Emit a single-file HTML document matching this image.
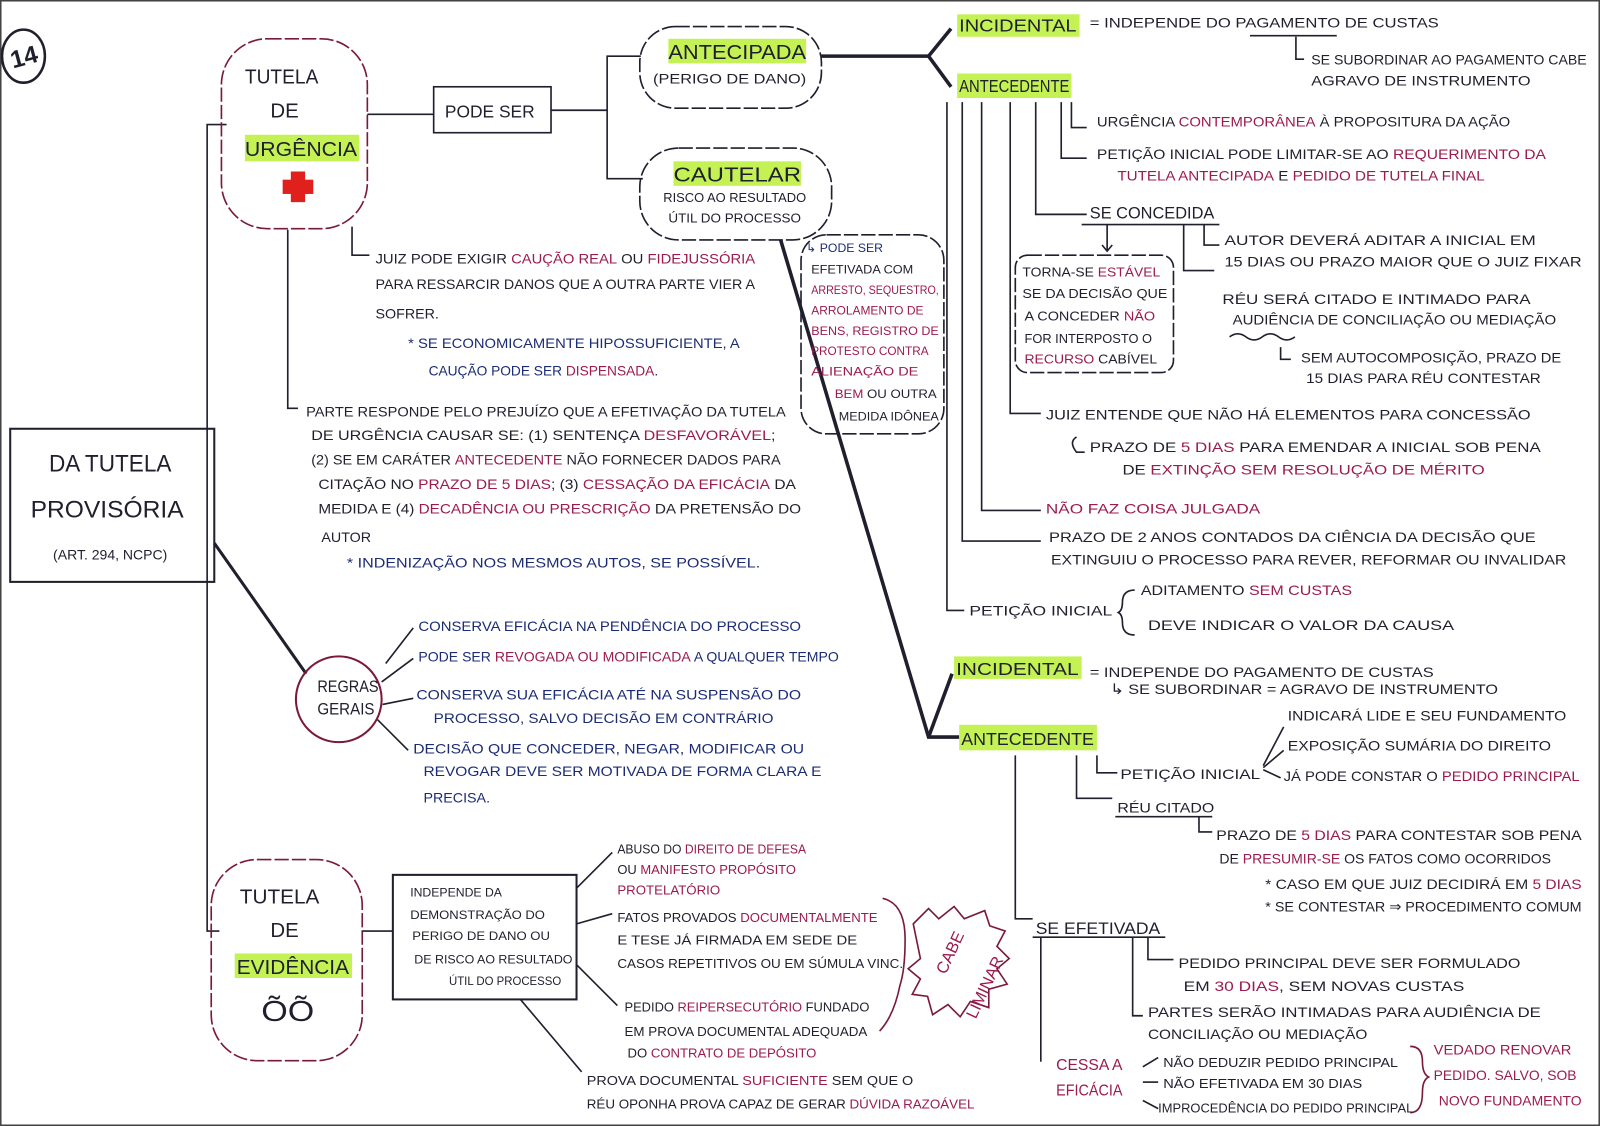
<!DOCTYPE html>
<html><head><meta charset="utf-8"><style>
html,body{margin:0;padding:0;background:#fff;}
svg{display:block;font-size:14px;font-family:"Liberation Sans",sans-serif;}
text{fill:#1f1f2e;}
.m{fill:#9b1b4f}.b{fill:#1c2c74}
.big{font-size:24px}
.hl{fill:#c4f255}
</style></head><body>
<svg width="1600" height="1126" viewBox="0 0 1568 1103" preserveAspectRatio="none" xmlns="http://www.w3.org/2000/svg">
<rect x="0.5" y="0.5" width="1567" height="1102" fill="#fff" stroke="#444" stroke-width="2"/>
<g fill="none" stroke="#1f1f2e" stroke-width="1.6">
<ellipse cx="23" cy="55" rx="21" ry="26" stroke-width="2.5"/>
<rect x="10" y="420" width="200" height="150" stroke-width="2"/>
<polyline points="222,122 203,122 203,912 215,912"/>
<line x1="210" y1="532" x2="300" y2="660" stroke-width="3"/>
<circle cx="332" cy="685" r="42" stroke="#7a1a3a" stroke-width="2"/>
<rect x="217" y="38" width="143" height="186" rx="45" stroke="#7a1a3a" stroke-dasharray="14 3"/>
<line x1="360" y1="112" x2="425" y2="112"/>
<rect x="425" y="85" width="115" height="45"/>
<polyline points="540,108 595,108"/>
<polyline points="628,55 595,55 595,175 630,175"/>
<rect x="627" y="26" width="178" height="80" rx="35" stroke-dasharray="14 3"/>
<rect x="627" y="145" width="188" height="90" rx="38" stroke-dasharray="14 3"/>
<polyline points="805,55 910,55" stroke-width="3.5"/>
<polyline points="932,28 910,55 932,85" stroke-width="3.5"/>
<polyline points="765,235 910,722 940,722" stroke-width="3.5"/>
<line x1="910" y1="722" x2="933" y2="660" stroke-width="3.5"/>
<rect x="785" y="230" width="140" height="195" rx="25" stroke-dasharray="14 3"/>
<polyline points="282,225 282,400 292,400"/>
<polyline points="345,222 345,250 362,250"/>
<polyline points="928,100 928,598 945,598"/>
<polyline points="943,100 943,530 1020,530"/>
<polyline points="962,100 962,500 1020,500"/>
<polyline points="990,100 990,405 1020,405"/>
<polyline points="1015,100 1015,210 1065,210"/>
<polyline points="1040,100 1040,155 1065,155"/>
<polyline points="1050,100 1050,125 1065,125"/>
<line x1="1060" y1="220" x2="1195" y2="220"/>
<line x1="1085" y1="220" x2="1085" y2="245"/><polyline points="1080,240 1085,246 1090,240"/>
<polyline points="1160,220 1160,265 1190,265"/>
<polyline points="1180,220 1180,240 1195,240"/>
<rect x="995" y="250" width="155" height="115" rx="12" stroke-dasharray="14 3"/>
<path d="M1205,330 q8,-6 16,0 t16,0 t16,0 t16,0"/>
<path d="M1255,340 v12 h10"/>
<path d="M1055,428 q-8,5 0,15 h8"/>
<path d="M1112,578 q-12,0 -12,12 q0,8 -4,10 q4,2 4,10 q0,12 12,12"/>
<line x1="1225" y1="35" x2="1310" y2="35"/>
<path d="M1270,36 v22 h8"/>
<polyline points="995,740 995,900 1012,900"/>
<polyline points="1055,740 1055,782 1090,782"/>
<polyline points="1075,740 1075,757 1095,757"/>
<line x1="1238" y1="750" x2="1258" y2="712"/><line x1="1238" y1="752" x2="1258" y2="735"/><line x1="1238" y1="754" x2="1255" y2="762"/>
<line x1="1093" y1="800" x2="1188" y2="800"/>
<polyline points="1175,800 1175,815 1188,815"/>
<line x1="1012" y1="918" x2="1142" y2="918"/>
<polyline points="1020,918 1020,1040"/>
<polyline points="1110,918 1110,995 1120,995"/>
<polyline points="1125,918 1125,940 1150,940"/>
<line x1="1120" y1="1045" x2="1135" y2="1036"/><line x1="1120" y1="1060" x2="1135" y2="1060"/><line x1="1120" y1="1078" x2="1135" y2="1086"/>
<path d="M1382,1025 q12,0 12,15 q0,12 6,15 q-6,3 -6,15 q0,20 -12,20" stroke="#7a1a3a"/>
<line x1="378" y1="650" x2="405" y2="615"/>
<line x1="374" y1="668" x2="405" y2="645"/>
<line x1="375" y1="690" x2="405" y2="684"/>
<line x1="370" y1="705" x2="400" y2="735"/>
<rect x="207" y="842" width="148" height="197" rx="45" stroke="#7a1a3a" stroke-dasharray="14 3"/>
<line x1="355" y1="912" x2="385" y2="912"/>
<rect x="385" y="857" width="180" height="122" stroke-width="2"/>
<line x1="565" y1="870" x2="600" y2="835"/>
<line x1="565" y1="905" x2="600" y2="895"/>
<line x1="565" y1="945" x2="605" y2="985"/>
<line x1="510" y1="979" x2="570" y2="1050"/>
<path d="M865,880 q22,5 22,40 q0,30 -5,45 q-6,30 -20,45" stroke="#7a1a3a"/>
<path d="M895,905 l15,-15 l10,10 l15,-12 l10,12 l20,-8 l5,15 l15,5 l-8,15 l12,12 l-12,10 l10,15 l-18,5 l0,18 l-18,-6 l-10,15 l-12,-12 l-15,10 l-5,-18 l-15,-2 l8,-15 l-12,-10 l12,-10 z" stroke="#7a1a3a"/>
</g>
<g fill="#e0201c"><rect x="285" y="168" width="14" height="30"/><rect x="277" y="176" width="30" height="14"/></g>
<rect class="hl" x="240" y="132" width="112" height="26"/>
<rect class="hl" x="655" y="38" width="135" height="24"/>
<rect class="hl" x="660" y="158" width="125" height="24"/>
<rect class="hl" x="938" y="14" width="120" height="22"/>
<rect class="hl" x="938" y="72" width="112" height="24"/>
<rect class="hl" x="935" y="643" width="125" height="22"/>
<rect class="hl" x="940" y="710" width="135" height="25"/>
<rect class="hl" x="230" y="934" width="115" height="24"/>

<text x="10" y="64" font-size="24" font-weight="bold" transform="rotate(-15 23 55)">14</text>
<text class="big" x="48" y="462" textLength="120" lengthAdjust="spacingAndGlyphs">DA TUTELA</text>
<text class="big" x="30" y="507" textLength="150" lengthAdjust="spacingAndGlyphs">PROVISÓRIA</text>
<text x="52" y="548" textLength="112" lengthAdjust="spacingAndGlyphs">(ART. 294, NCPC)</text>
<text x="240" y="82" font-size="20" textLength="72" lengthAdjust="spacingAndGlyphs">TUTELA</text>
<text x="265" y="115" font-size="20">DE</text>
<text x="240" y="153" font-size="20" textLength="110" lengthAdjust="spacingAndGlyphs">URGÊNCIA</text>
<text x="436" y="115" font-size="17" textLength="88" lengthAdjust="spacingAndGlyphs">PODE SER</text>
<text x="655" y="58" font-size="20" textLength="135" lengthAdjust="spacingAndGlyphs">ANTECIPADA</text>
<text x="640" y="82" textLength="150" lengthAdjust="spacingAndGlyphs">(PERIGO DE DANO)</text>
<text x="660" y="178" font-size="20" textLength="125" lengthAdjust="spacingAndGlyphs">CAUTELAR</text>
<text x="650" y="198" font-size="13" textLength="140" lengthAdjust="spacingAndGlyphs">RISCO AO RESULTADO</text>
<text x="655" y="218" font-size="13" textLength="130" lengthAdjust="spacingAndGlyphs">ÚTIL DO PROCESSO</text>
<text x="790" y="247" class="b" font-size="12">↳ PODE SER</text>
<text x="795" y="268" font-size="12" textLength="100" lengthAdjust="spacingAndGlyphs">EFETIVADA COM</text>
<text x="795" y="288" class="m" font-size="12" textLength="125" lengthAdjust="spacingAndGlyphs">ARRESTO, SEQUESTRO,</text>
<text x="795" y="308" class="m" font-size="12" textLength="110" lengthAdjust="spacingAndGlyphs">ARROLAMENTO DE</text>
<text x="795" y="328" class="m" font-size="12" textLength="125" lengthAdjust="spacingAndGlyphs">BENS, REGISTRO DE</text>
<text x="795" y="348" class="m" font-size="12" textLength="115" lengthAdjust="spacingAndGlyphs">PROTESTO CONTRA</text>
<text x="795" y="368" class="m" font-size="12" textLength="105" lengthAdjust="spacingAndGlyphs">ALIENAÇÃO DE</text>
<text x="818" y="390" font-size="12" textLength="100" lengthAdjust="spacingAndGlyphs"><tspan class="m">BEM</tspan> OU OUTRA</text>
<text x="822" y="412" font-size="12" textLength="98" lengthAdjust="spacingAndGlyphs">MEDIDA IDÔNEA</text>
<text x="940" y="31" font-size="17" textLength="115" lengthAdjust="spacingAndGlyphs">INCIDENTAL</text>
<text x="1068" y="27" textLength="342" lengthAdjust="spacingAndGlyphs">=  INDEPENDE DO PAGAMENTO DE CUSTAS</text>
<text x="1285" y="63" textLength="270" lengthAdjust="spacingAndGlyphs">SE SUBORDINAR AO PAGAMENTO CABE</text>
<text x="1285" y="84" textLength="215" lengthAdjust="spacingAndGlyphs">AGRAVO DE INSTRUMENTO</text>
<text x="940" y="90" font-size="17" textLength="108" lengthAdjust="spacingAndGlyphs">ANTECEDENTE</text>
<text x="1075" y="124" textLength="405" lengthAdjust="spacingAndGlyphs">URGÊNCIA <tspan class="m">CONTEMPORÂNEA</tspan> À PROPOSITURA DA AÇÃO</text>
<text x="1075" y="156" textLength="440" lengthAdjust="spacingAndGlyphs">PETIÇÃO INICIAL PODE LIMITAR-SE AO <tspan class="m">REQUERIMENTO DA</tspan></text>
<text x="1095" y="177" textLength="360" lengthAdjust="spacingAndGlyphs"><tspan class="m">TUTELA ANTECIPADA</tspan> E <tspan class="m">PEDIDO DE TUTELA FINAL</tspan></text>
<text x="1068" y="214" font-size="16" textLength="122" lengthAdjust="spacingAndGlyphs">SE CONCEDIDA</text>
<text x="1200" y="240" textLength="305" lengthAdjust="spacingAndGlyphs">AUTOR DEVERÁ ADITAR A INICIAL EM</text>
<text x="1200" y="261" textLength="350" lengthAdjust="spacingAndGlyphs">15 DIAS OU PRAZO MAIOR QUE O JUIZ FIXAR</text>
<text x="1002" y="271" font-size="13" textLength="135" lengthAdjust="spacingAndGlyphs">TORNA-SE <tspan class="m">ESTÁVEL</tspan></text>
<text x="1002" y="292" font-size="13" textLength="142" lengthAdjust="spacingAndGlyphs">SE DA DECISÃO QUE</text>
<text x="1004" y="314" font-size="13" textLength="128" lengthAdjust="spacingAndGlyphs">A CONCEDER <tspan class="m">NÃO</tspan></text>
<text x="1004" y="336" font-size="13" textLength="125" lengthAdjust="spacingAndGlyphs">FOR INTERPOSTO O</text>
<text x="1004" y="356" font-size="13" textLength="130" lengthAdjust="spacingAndGlyphs"><tspan class="m">RECURSO</tspan> CABÍVEL</text>
<text x="1198" y="298" textLength="302" lengthAdjust="spacingAndGlyphs">RÉU SERÁ CITADO E INTIMADO PARA</text>
<text x="1208" y="318" textLength="317" lengthAdjust="spacingAndGlyphs">AUDIÊNCIA DE CONCILIAÇÃO OU MEDIAÇÃO</text>
<text x="1275" y="355" textLength="255" lengthAdjust="spacingAndGlyphs">SEM AUTOCOMPOSIÇÃO, PRAZO DE</text>
<text x="1280" y="375" textLength="230" lengthAdjust="spacingAndGlyphs">15 DIAS PARA RÉU CONTESTAR</text>
<text x="1025" y="411" textLength="475" lengthAdjust="spacingAndGlyphs">JUIZ ENTENDE QUE NÃO HÁ ELEMENTOS PARA CONCESSÃO</text>
<text x="1068" y="443" textLength="442" lengthAdjust="spacingAndGlyphs">PRAZO DE <tspan class="m">5 DIAS</tspan> PARA EMENDAR A INICIAL SOB PENA</text>
<text x="1100" y="465" textLength="355" lengthAdjust="spacingAndGlyphs">DE <tspan class="m">EXTINÇÃO SEM RESOLUÇÃO DE MÉRITO</tspan></text>
<text x="1025" y="503" class="m" textLength="210" lengthAdjust="spacingAndGlyphs">NÃO FAZ COISA JULGADA</text>
<text x="1028" y="531" textLength="477" lengthAdjust="spacingAndGlyphs">PRAZO DE 2 ANOS CONTADOS DA CIÊNCIA DA DECISÃO QUE</text>
<text x="1030" y="553" textLength="505" lengthAdjust="spacingAndGlyphs">EXTINGUIU O PROCESSO PARA REVER, REFORMAR OU INVALIDAR</text>
<text x="950" y="603" textLength="140" lengthAdjust="spacingAndGlyphs">PETIÇÃO INICIAL</text>
<text x="1118" y="583" textLength="207" lengthAdjust="spacingAndGlyphs">ADITAMENTO <tspan class="m">SEM CUSTAS</tspan></text>
<text x="1125" y="617" textLength="300" lengthAdjust="spacingAndGlyphs">DEVE INDICAR O VALOR DA CAUSA</text>
<text x="937" y="661" font-size="17" textLength="120" lengthAdjust="spacingAndGlyphs">INCIDENTAL</text>
<text x="1068" y="663" textLength="337" lengthAdjust="spacingAndGlyphs">= INDEPENDE DO PAGAMENTO DE CUSTAS</text>
<text x="1088" y="680" textLength="380" lengthAdjust="spacingAndGlyphs">↳ SE SUBORDINAR = AGRAVO DE INSTRUMENTO</text>
<text x="942" y="730" font-size="17" textLength="130" lengthAdjust="spacingAndGlyphs">ANTECEDENTE</text>
<text x="1098" y="763" textLength="137" lengthAdjust="spacingAndGlyphs">PETIÇÃO INICIAL</text>
<text x="1262" y="706" textLength="273" lengthAdjust="spacingAndGlyphs">INDICARÁ LIDE E SEU FUNDAMENTO</text>
<text x="1262" y="735" textLength="258" lengthAdjust="spacingAndGlyphs">EXPOSIÇÃO SUMÁRIA DO DIREITO</text>
<text x="1258" y="765" textLength="290" lengthAdjust="spacingAndGlyphs">JÁ PODE CONSTAR O <tspan class="m">PEDIDO PRINCIPAL</tspan></text>
<text x="1095" y="796" textLength="95" lengthAdjust="spacingAndGlyphs">RÉU CITADO</text>
<text x="1192" y="823" textLength="358" lengthAdjust="spacingAndGlyphs">PRAZO DE <tspan class="m">5 DIAS</tspan> PARA CONTESTAR SOB PENA</text>
<text x="1195" y="846" textLength="325" lengthAdjust="spacingAndGlyphs">DE <tspan class="m">PRESUMIR-SE</tspan> OS FATOS COMO OCORRIDOS</text>
<text x="1240" y="871" textLength="310" lengthAdjust="spacingAndGlyphs">* CASO EM QUE JUIZ DECIDIRÁ EM <tspan class="m">5 DIAS</tspan></text>
<text x="1240" y="893" textLength="310" lengthAdjust="spacingAndGlyphs">* SE CONTESTAR ⇒ PROCEDIMENTO COMUM</text>
<text x="1015" y="915" font-size="16" textLength="122" lengthAdjust="spacingAndGlyphs">SE EFETIVADA</text>
<text x="1155" y="948" textLength="335" lengthAdjust="spacingAndGlyphs">PEDIDO PRINCIPAL DEVE SER FORMULADO</text>
<text x="1160" y="971" textLength="275" lengthAdjust="spacingAndGlyphs">EM <tspan class="m">30 DIAS</tspan>, SEM NOVAS CUSTAS</text>
<text x="1125" y="996" textLength="385" lengthAdjust="spacingAndGlyphs">PARTES SERÃO INTIMADAS PARA AUDIÊNCIA DE</text>
<text x="1125" y="1018" textLength="215" lengthAdjust="spacingAndGlyphs">CONCILIAÇÃO OU MEDIAÇÃO</text>
<text x="1035" y="1048" class="m" font-size="15" textLength="65" lengthAdjust="spacingAndGlyphs">CESSA A</text>
<text x="1035" y="1073" class="m" font-size="15" textLength="65" lengthAdjust="spacingAndGlyphs">EFICÁCIA</text>
<text x="1140" y="1045" font-size="13" textLength="230" lengthAdjust="spacingAndGlyphs">NÃO DEDUZIR PEDIDO PRINCIPAL</text>
<text x="1140" y="1066" font-size="13" textLength="195" lengthAdjust="spacingAndGlyphs">NÃO EFETIVADA EM 30 DIAS</text>
<text x="1135" y="1090" font-size="13" textLength="250" lengthAdjust="spacingAndGlyphs">IMPROCEDÊNCIA DO PEDIDO PRINCIPAL</text>
<text x="1405" y="1033" class="m" textLength="135" lengthAdjust="spacingAndGlyphs">VEDADO RENOVAR</text>
<text x="1405" y="1058" class="m" textLength="140" lengthAdjust="spacingAndGlyphs">PEDIDO. SALVO, SOB</text>
<text x="1410" y="1083" class="m" textLength="140" lengthAdjust="spacingAndGlyphs">NOVO FUNDAMENTO</text>
<text x="368" y="258" textLength="372" lengthAdjust="spacingAndGlyphs">JUIZ PODE EXIGIR <tspan class="m">CAUÇÃO REAL</tspan> OU <tspan class="m">FIDEJUSSÓRIA</tspan></text>
<text x="368" y="283" textLength="372" lengthAdjust="spacingAndGlyphs">PARA RESSARCIR DANOS QUE A OUTRA PARTE VIER A</text>
<text x="368" y="312">SOFRER.</text>
<text x="400" y="341" class="b" textLength="325" lengthAdjust="spacingAndGlyphs">* SE ECONOMICAMENTE HIPOSSUFICIENTE, A</text>
<text x="420" y="368" class="b" textLength="225" lengthAdjust="spacingAndGlyphs">CAUÇÃO PODE SER <tspan class="m">DISPENSADA</tspan>.</text>
<text x="300" y="408" textLength="470" lengthAdjust="spacingAndGlyphs">PARTE RESPONDE PELO PREJUÍZO QUE A EFETIVAÇÃO DA TUTELA</text>
<text x="305" y="431" textLength="455" lengthAdjust="spacingAndGlyphs">DE URGÊNCIA CAUSAR SE: (1) SENTENÇA <tspan class="m">DESFAVORÁVEL</tspan>;</text>
<text x="305" y="455" textLength="460" lengthAdjust="spacingAndGlyphs">(2) SE EM CARÁTER <tspan class="m">ANTECEDENTE</tspan> NÃO FORNECER DADOS PARA</text>
<text x="312" y="479" textLength="468" lengthAdjust="spacingAndGlyphs">CITAÇÃO NO <tspan class="m">PRAZO DE 5 DIAS</tspan>; (3) <tspan class="m">CESSAÇÃO DA EFICÁCIA</tspan> DA</text>
<text x="312" y="503" textLength="473" lengthAdjust="spacingAndGlyphs">MEDIDA E (4) <tspan class="m">DECADÊNCIA OU PRESCRIÇÃO</tspan> DA PRETENSÃO DO</text>
<text x="315" y="531">AUTOR</text>
<text x="340" y="556" class="b" textLength="405" lengthAdjust="spacingAndGlyphs">* INDENIZAÇÃO NOS MESMOS AUTOS, SE POSSÍVEL.</text>
<text x="311" y="678" font-size="16" textLength="60" lengthAdjust="spacingAndGlyphs">REGRAS</text>
<text x="311" y="700" font-size="16" textLength="56" lengthAdjust="spacingAndGlyphs">GERAIS</text>
<text x="410" y="618" class="b" textLength="375" lengthAdjust="spacingAndGlyphs">CONSERVA EFICÁCIA NA PENDÊNCIA DO PROCESSO</text>
<text x="410" y="648" class="b" textLength="412" lengthAdjust="spacingAndGlyphs">PODE SER <tspan class="m">REVOGADA OU MODIFICADA</tspan> A QUALQUER TEMPO</text>
<text x="408" y="685" class="b" textLength="377" lengthAdjust="spacingAndGlyphs">CONSERVA SUA EFICÁCIA ATÉ NA SUSPENSÃO DO</text>
<text x="425" y="708" class="b" textLength="333" lengthAdjust="spacingAndGlyphs">PROCESSO, SALVO DECISÃO EM CONTRÁRIO</text>
<text x="405" y="738" class="b" textLength="383" lengthAdjust="spacingAndGlyphs">DECISÃO QUE CONCEDER, NEGAR, MODIFICAR OU</text>
<text x="415" y="760" class="b" textLength="390" lengthAdjust="spacingAndGlyphs">REVOGAR DEVE SER MOTIVADA DE FORMA CLARA E</text>
<text x="415" y="786" class="b">PRECISA.</text>
<text x="235" y="885" font-size="20" textLength="78" lengthAdjust="spacingAndGlyphs">TUTELA</text>
<text x="265" y="918" font-size="20">DE</text>
<text x="232" y="954" font-size="20" textLength="110" lengthAdjust="spacingAndGlyphs">EVIDÊNCIA</text>
<text x="256" y="1000" font-size="28" textLength="52" lengthAdjust="spacingAndGlyphs">ÕÕ</text>
<text x="402" y="878" font-size="12">INDEPENDE DA</text>
<text x="402" y="900" font-size="12" textLength="132" lengthAdjust="spacingAndGlyphs">DEMONSTRAÇÃO DO</text>
<text x="404" y="921" font-size="12" textLength="135" lengthAdjust="spacingAndGlyphs">PERIGO DE DANO OU</text>
<text x="406" y="944" font-size="12" textLength="155" lengthAdjust="spacingAndGlyphs">DE RISCO AO RESULTADO</text>
<text x="440" y="965" font-size="12" textLength="110" lengthAdjust="spacingAndGlyphs">ÚTIL DO PROCESSO</text>
<text x="605" y="836" font-size="13" textLength="185" lengthAdjust="spacingAndGlyphs">ABUSO DO <tspan class="m">DIREITO DE DEFESA</tspan></text>
<text x="605" y="856" font-size="13" textLength="175" lengthAdjust="spacingAndGlyphs">OU <tspan class="m">MANIFESTO PROPÓSITO</tspan></text>
<text x="605" y="876" font-size="13" class="m">PROTELATÓRIO</text>
<text x="605" y="903" font-size="13" textLength="255" lengthAdjust="spacingAndGlyphs">FATOS PROVADOS <tspan class="m">DOCUMENTALMENTE</tspan></text>
<text x="605" y="925" font-size="13" textLength="235" lengthAdjust="spacingAndGlyphs">E TESE JÁ FIRMADA EM SEDE DE</text>
<text x="605" y="948" font-size="13" textLength="280" lengthAdjust="spacingAndGlyphs">CASOS REPETITIVOS OU EM SÚMULA VINC.</text>
<text x="612" y="991" font-size="13" textLength="240" lengthAdjust="spacingAndGlyphs">PEDIDO <tspan class="m">REIPERSECUTÓRIO</tspan> FUNDADO</text>
<text x="612" y="1015" font-size="13" textLength="238" lengthAdjust="spacingAndGlyphs">EM PROVA DOCUMENTAL ADEQUADA</text>
<text x="615" y="1036" font-size="13" textLength="185" lengthAdjust="spacingAndGlyphs">DO <tspan class="m">CONTRATO DE DEPÓSITO</tspan></text>
<text x="575" y="1063" font-size="13" textLength="320" lengthAdjust="spacingAndGlyphs">PROVA DOCUMENTAL <tspan class="m">SUFICIENTE</tspan> SEM QUE O</text>
<text x="575" y="1086" font-size="13" textLength="380" lengthAdjust="spacingAndGlyphs">RÉU OPONHA PROVA CAPAZ DE GERAR <tspan class="m">DÚVIDA RAZOÁVEL</tspan></text>
<text x="912" y="948" class="m" font-size="16" transform="rotate(-65 925 940)">CABE</text>
<text x="922" y="985" class="m" font-size="16" transform="rotate(-65 950 965)">LIMINAR</text>
</svg>
</body></html>
